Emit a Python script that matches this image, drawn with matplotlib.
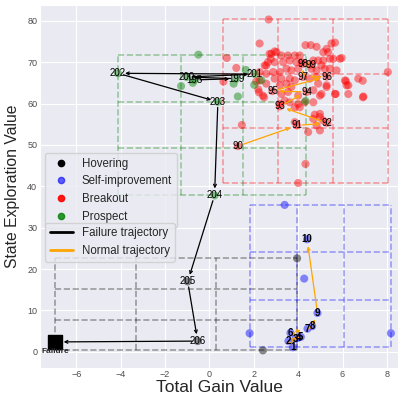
import matplotlib
matplotlib.use('Agg')
import matplotlib.pyplot as plt
from matplotlib.lines import Line2D
import seaborn as sns

sns.set_style('darkgrid')
plt.rcParams['font.family'] = ['Liberation Sans', 'DejaVu Sans']

# ---- points of each state type (Total Gain, State Exploration) ----
hover_x = [-6.95, -0.53, -0.98, 3.95, 2.41]
hover_y = [2.4, 2.6, 17.0, 22.6, 0.36]

selfimp_x = [3.76, 3.56, 3.88, 4.00, 4.12, 3.65, 4.42, 4.63, 4.87, 4.40, 1.81, 8.18, 3.39, 4.27]
selfimp_y = [1.1, 2.6, 3.2, 3.4, 3.6, 4.6, 5.6, 6.2, 9.4, 27.2, 4.5, 4.5, 35.5, 17.7]

breakout_x = [1.28, 3.95, 5.31, 3.17, 4.38, 2.84, 5.28, 4.22, 4.22, 4.56,
              2.67, 2.26, 0.78, 0.63, 1.21, 1.46, 4.33, 4.00, 8.04, 6.94,
              6.71, 6.91, 6.15, 6.26, 6.26, 5.69, 5.66, 5.96, 5.58, 5.88,
              4.33, 4.57, 4.83, 5.13, 5.28, 5.50, 2.79, 3.02, 3.24, 3.54,
              3.85, 4.07, 2.64, 2.49, 2.94, 3.32, 3.62, 3.92, 4.15, 4.68,
              4.90, 5.13, 5.43, 2.56, 2.87, 3.17, 3.47, 3.69, 4.00, 4.60,
              4.83, 5.20, 5.43, 2.94, 3.24, 3.62, 3.85, 4.52, 4.83, 2.56,
              3.17, 3.47, 3.69, 4.90, 5.28, 3.24, 3.54, 4.00, 4.68, 5.05,
              3.17, 3.62, 4.00, 4.68, 5.35, 5.05, 5.73, 6.11, 6.18, 6.92,
              5.66, 5.28, 4.98, 2.26, 2.26, 2.41, 2.20, 2.56, 2.11, 2.23,
              2.46, 3.85, 4.75, 4.98, 5.13, 4.98, 4.68, 4.98, 4.45, 3.85,
              4.30, 4.07, 3.39, 4.83, 2.71, 2.94, 2.76]
breakout_y = [49.7, 54.7, 55.3, 59.3, 62.8, 63.0, 66.5, 66.4, 69.6, 69.4,
              80.3, 74.5, 71.0, 65.3, 68.6, 54.8, 45.4, 40.8, 67.6, 61.7,
              66.0, 65.5, 65.4, 64.4, 62.3, 62.3, 74.7, 71.0, 70.8, 70.8,
              74.1, 74.1, 73.7, 72.4, 73.2, 74.5, 72.0, 72.4, 71.6, 71.6,
              71.6, 71.6, 70.0, 69.2, 70.0, 70.0, 70.4, 70.0, 70.0, 70.4,
              70.4, 70.4, 70.8, 67.2, 67.6, 67.6, 68.4, 68.0, 68.4, 68.4,
              68.0, 68.4, 68.4, 66.0, 66.0, 66.0, 65.6, 66.0, 66.4, 64.8,
              64.4, 64.8, 64.0, 64.8, 64.4, 62.3, 62.8, 61.9, 63.2, 62.3,
              59.9, 60.3, 59.9, 60.3, 72.4, 69.2, 68.0, 65.6, 64.4, 61.5,
              62.3, 64.0, 61.9, 67.6, 65.6, 61.9, 63.4, 69.2, 65.3, 62.7,
              61.5, 59.1, 57.3, 57.5, 55.9, 56.7, 56.3, 53.5, 53.1, 55.5,
              60.3, 59.1, 60.7, 54.7, 72.0, 72.6, 70.8]

prospect_x = [-4.12, -0.50, -1.28, -0.75, -1.03, -0.68, 0.38, 1.09, 1.28, 1.21,
              2.05, 1.64, 2.34, 2.02, 4.33, 0.23]
prospect_y = [67.3, 71.8, 64.2, 65.0, 66.4, 65.7, 60.4, 64.8, 61.7, 66.0,
              67.1, 68.1, 65.6, 64.5, 60.6, 37.8]

# ---- trajectories ----
normal_labels = ['1', '2', '3', '4', '5', '6', '7', '8', '9', '10']
normal_x = selfimp_x[:10]
normal_y = selfimp_y[:10]
normal2_labels = ['90', '91', '92', '93', '94', '95', '96', '97', '98', '99']
normal2_x = breakout_x[:10]
normal2_y = breakout_y[:10]

fail_labels = ['198', '199', '200', '201', '202', '203', '204', '205', '206']
fail_x = [-0.68, 1.21, -1.03, 2.05, -4.12, 0.38, 0.23, -0.98, -0.53]
fail_y = [65.7, 66.0, 66.4, 67.1, 67.3, 60.4, 37.8, 17.0, 2.6]
failure_pt = (-6.95, 2.4)

fig = plt.figure(figsize=(4.02, 3.99), dpi=100)
ax = fig.add_axes([40/402, 1-368/399, 358/402, 363/399])


def draw_cells(xs, ys, color):
    x0, x1 = min(xs), max(xs)
    y0, y1 = min(ys), max(ys)
    for i in range(4):
        xv = x0 + (x1-x0)*i/3
        yv = y0 + (y1-y0)*i/3
        ax.plot([xv, xv], [y0, y1], ls='--', color=color, alpha=0.35, lw=1.2, zorder=1)
        ax.plot([x0, x1], [yv, yv], ls='--', color=color, alpha=0.35, lw=1.2, zorder=1)


draw_cells(hover_x, hover_y, 'black')
draw_cells(selfimp_x, selfimp_y, 'blue')
draw_cells(breakout_x, breakout_y, 'red')
draw_cells(prospect_x, prospect_y, 'green')

for xs, ys, col in [(hover_x, hover_y, 'black'), (selfimp_x, selfimp_y, 'blue'),
                    (breakout_x, breakout_y, 'red'), (prospect_x, prospect_y, 'green')]:
    ax.scatter(xs, ys, c=col, s=34, alpha=0.45, edgecolors='none', zorder=2)


def draw_traj(xs, ys, labels, color, bold):
    for i in range(len(xs)-1):
        ax.annotate('', xy=(xs[i+1], ys[i+1]), xytext=(xs[i], ys[i]),
                    arrowprops=dict(arrowstyle='->', color=color, lw=0.9,
                                    shrinkA=4, shrinkB=5, mutation_scale=5), zorder=3)
    for x, y, l in zip(xs, ys, labels):
        ax.text(x, y, l, ha='center', va='center', fontsize=7, color='black',
                fontweight='bold' if bold else 'normal', zorder=4)


draw_traj(normal_x, normal_y, normal_labels, 'orange', True)
draw_traj(normal2_x, normal2_y, normal2_labels, 'orange', False)
draw_traj(fail_x, fail_y, fail_labels, 'black', False)
ax.annotate('', xy=failure_pt, xytext=(fail_x[-1], fail_y[-1]),
            arrowprops=dict(arrowstyle='->', color='black', lw=0.9,
                            shrinkA=4, shrinkB=6, mutation_scale=5), zorder=3)
ax.scatter([failure_pt[0]], [failure_pt[1]], marker='s', s=95, c='black', zorder=4)
ax.text(failure_pt[0], failure_pt[1]-2.2, 'Failure', ha='center', va='center',
        fontsize=6, fontweight='bold', zorder=5)

ax.set_xlim(-7.64, 8.5)
ax.set_ylim(-3.9, 83.8)
ax.set_xticks([-6, -4, -2, 0, 2, 4, 6, 8])
ax.set_yticks([0, 10, 20, 30, 40, 50, 60, 70, 80])
ax.tick_params(axis='both', labelsize=6.5, colors='0.3', length=0)
ax.tick_params(axis='x', pad=1.5)
ax.tick_params(axis='y', pad=2)
ax.set_xlabel('Total Gain Value', fontsize=12.5, color='0.15', labelpad=1)
ax.set_ylabel('State Exploration Value', fontsize=11.3, color='0.15', labelpad=5)

h1 = [Line2D([], [], marker='o', ls='', color='black', markersize=4.5, label='Hovering'),
      Line2D([], [], marker='o', ls='', color='blue', alpha=0.6, markersize=4.5, label='Self-improvement'),
      Line2D([], [], marker='o', ls='', color='red', alpha=0.9, markersize=4.5, label='Breakout'),
      Line2D([], [], marker='o', ls='', color='green', alpha=0.8, markersize=4.5, label='Prospect')]
leg1 = ax.legend(handles=h1, loc='upper left', bbox_to_anchor=(0.014, 0.592),
                 borderaxespad=0, fontsize=8.3)
ax.add_artist(leg1)
h2 = [Line2D([], [], color='black', lw=2, label='Failure trajectory'),
      Line2D([], [], color='orange', lw=2, label='Normal trajectory')]
ax.legend(handles=h2, loc='upper left', bbox_to_anchor=(0.014, 0.400),
          borderaxespad=0, fontsize=8.3)

fig.savefig('out.png', dpi=100)
